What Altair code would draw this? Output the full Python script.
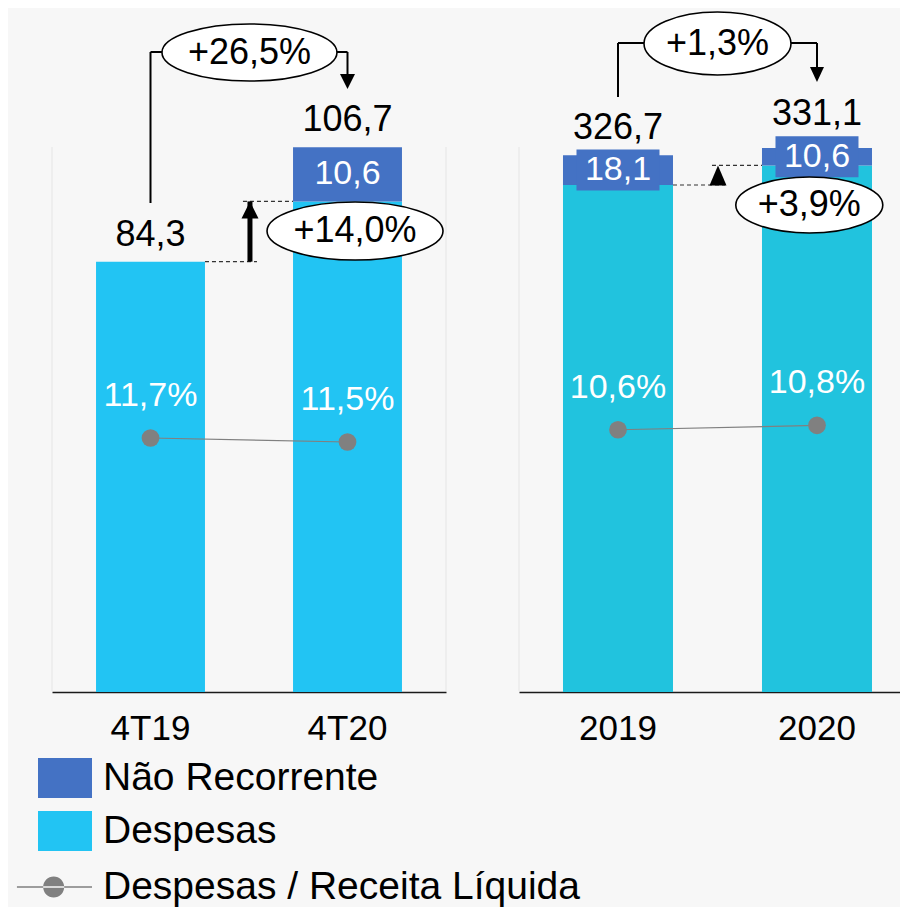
import altair as alt
import pandas as pd

# ---------------- data ----------------
periods_q = ["4T19", "4T20"]
periods_y = ["2019", "2020"]
despesas_q = [84.3, 96.1]
nao_rec_q = [0.0, 10.6]
total_q = [84.3, 106.7]
ratio_q = [11.7, 11.5]
despesas_y = [308.6, 320.5]
nao_rec_y = [18.1, 10.6]
total_y = [326.7, 331.1]
ratio_y = [10.6, 10.8]
var_total = ["+26,5%", "+1,3%"]
var_despesas = ["+14,0%", "+3,9%"]
series = ["Não Recorrente", "Despesas"]
line_label = "Despesas / Receita Líquida"

# ---------------- style ----------------
FONT = "Liberation Sans"
BG = "#F7F7F7"
DARK = "#4472C4"
CYAN_Q = "#22C4F3"
CYAN_Y = "#21C3DE"
GRAY = "#808080"
H = 682

RECT_PATH = "M -1 -0.74 H 1 V 0.74 H -1 Z"
BOX_PATH = "M -1 -0.494 H 1 V 0.494 H -1 Z"
LINE_PATH = ("M -1.78 -0.028 H 1 V 0.028 H -1.78 Z "
             "M -0.809 0 A 0.39 0.39 0 1 0 -0.029 0 A 0.39 0.39 0 1 0 -0.809 0 Z")


def ellipse_path(k):
    return f"M -1 0 A 1 {k} 0 1 0 1 0 A 1 {k} 0 1 0 -1 0 Z"


def long_df(periods, desp, nr):
    rows = []
    for p, d, n in zip(periods, desp, nr):
        rows.append({"period": p, "serie": "Despesas", "value": d, "ord": 0})
        if n > 0:
            rows.append({"period": p, "serie": "Não Recorrente", "value": n, "ord": 1})
    return pd.DataFrame(rows)


def wide_df(periods, desp, nr, total, ratio):
    return pd.DataFrame({"period": periods, "desp": desp, "nr": nr,
                         "total": total, "ratio": ratio,
                         "lg": [line_label] * len(periods)})


def ann_df(periods, desp, vt, vd):
    return pd.DataFrame({"p0": [periods[0]], "p1": [periods[1]],
                         "d0": [desp[0]], "d1": [desp[1]],
                         "vt": [vt], "vd": [vd]})


def fmt(field, suffix=""):
    s = f"replace(format(datum.{field}, '.1f'), '.', ',')"
    return s + (f" + '{suffix}'" if suffix else "")


XAXIS = alt.Axis(domainColor="#1a1a1a", domainWidth=1.6, ticks=False,
                 labelFont=FONT, labelFontSize=35, labelColor="black",
                 labelPadding=19, labelAngle=0, grid=False, title=None)


def panel(periods, desp, nr, total, ratio, vt, vd, W, xs, bar_dom, ratio_dom,
          cyan, g, legend_on, right_border):
    longd = long_df(periods, desp, nr)
    wide = wide_df(periods, desp, nr, total, ratio)
    ann = ann_df(periods, desp, vt, vd)

    bar_scale = alt.Scale(domain=bar_dom, nice=False, zero=False)
    ratio_scale = alt.Scale(domain=ratio_dom, nice=False, zero=False)

    def X(field, bp=None):
        kw = {} if bp is None else {"bandPosition": bp}
        return alt.X(f"{field}:N", scale=xs, axis=XAXIS, title=None, **kw)

    def X2(field, bp):
        return alt.X2(f"{field}:N", bandPosition=bp)

    layers = []

    leg_color = alt.Legend(orient="none", legendX=-14, legendY=741, title=None,
                           direction="vertical", symbolType=RECT_PATH,
                           symbolSize=2916, symbolStrokeWidth=0,
                           labelFont=FONT, labelFontSize=39, labelColor="black",
                           labelOffset=11, rowPadding=6, labelLimit=0)

    bars = alt.Chart(longd).mark_bar().encode(
        x=X("period"),
        y=alt.Y("value:Q", stack="zero", scale=bar_scale, axis=None),
        color=alt.Color("serie:N", scale=alt.Scale(domain=series, range=[DARK, cyan]),
                        legend=leg_color if legend_on else None),
        order=alt.Order("ord:Q"),
    )
    layers.append(bars)

    # faint panel borders
    bx = [0, W] if right_border else [0]
    for xv in bx:
        layers.append(alt.Chart(ann).mark_rule(color="#EBEBEB", strokeWidth=1.5).encode(
            x=alt.value(xv), y=alt.value(137), y2=alt.value(H - 1)))

    nr_base = alt.Chart(wide).transform_filter("datum.nr > 0").transform_calculate(
        mid="datum.desp + datum.nr / 2", lbl=fmt("nr"))
    if g["box"]:
        layers.append(nr_base.mark_point(filled=True, shape=BOX_PATH, size=6889,
                                         color=DARK, opacity=1).encode(
            x=X("period"), y=alt.Y("mid:Q", scale=bar_scale, axis=None)))
    layers.append(nr_base.mark_text(font=FONT, fontSize=34, color="white").encode(
        x=X("period"), y=alt.Y("mid:Q", scale=bar_scale, axis=None), text="lbl:N"))

    # total labels
    tot = alt.Chart(wide).transform_calculate(
        mid="datum.desp + datum.nr / 2", lbl=fmt("total"))
    layers.append(tot.mark_text(font=FONT, fontSize=36, color="black", dy=g["tot_dy"]).encode(
        x=X("period"), y=alt.Y(f"{g['tot_field']}:Q", scale=bar_scale, axis=None),
        text="lbl:N"))

    # ratio line + points + labels
    rbase = alt.Chart(wide).transform_calculate(lbl=fmt("ratio", "%"))
    layers.append(rbase.mark_line(color=GRAY, strokeWidth=1.2).encode(
        x=X("period"), y=alt.Y("ratio:Q", scale=ratio_scale, axis=None)))
    layers.append(rbase.mark_circle(color=GRAY, size=314, opacity=1).encode(
        x=X("period"), y=alt.Y("ratio:Q", scale=ratio_scale, axis=None)))
    layers.append(rbase.mark_text(font=FONT, fontSize=34, color="white", dy=-42).encode(
        x=X("period"), y=alt.Y("ratio:Q", scale=ratio_scale, axis=None), text="lbl:N"))

    if legend_on:
        leg_shape = alt.Legend(orient="none", legendX=-14, legendY=850, title=None,
                               direction="vertical", symbolSize=2916, symbolOpacity=1,
                               symbolStrokeWidth=0, symbolFillColor=GRAY,
                               labelFont=FONT, labelFontSize=39, labelColor="black",
                               labelOffset=11, labelLimit=0)
        layers.append(rbase.mark_point(filled=True, color=GRAY, opacity=0).encode(
            x=X("period"), y=alt.Y("ratio:Q", scale=ratio_scale, axis=None),
            shape=alt.Shape("lg:N", scale=alt.Scale(domain=[line_label], range=[LINE_PATH]),
                            legend=leg_shape)))

    # ---- annotations (anchored to bar edges, offset in pixels) ----
    a = alt.Chart(ann)
    layers.append(a.mark_rule(color="#333333", strokeWidth=1.2, strokeDash=[4, 3],
                              x2Offset=g["dash_lo_len"]).encode(
        x=X("p0", 1), x2=X2("p0", 1),
        y=alt.Y("d0:Q", scale=bar_scale, axis=None)))
    layers.append(a.mark_rule(color="#333333", strokeWidth=1.2, strokeDash=[4, 3],
                              xOffset=g["dash_hi_off"]).encode(
        x=X("p0", 1), x2=X2("p1", 0),
        y=alt.Y("d1:Q", scale=bar_scale, axis=None)))
    if g["shaft"]:
        layers.append(a.mark_rule(color="black", strokeWidth=5, xOffset=g["up_off"]).encode(
            x=X("p0", 1), y=alt.Y("d0:Q", scale=bar_scale, axis=None),
            y2=alt.Y2("d1:Q")))
    layers.append(a.mark_point(filled=True, color="black", opacity=1, shape=g["up_path"],
                               size=400, xOffset=g["up_off"]).encode(
        x=X("p0", 1), y=alt.Y("d1:Q", scale=bar_scale, axis=None)))

    # bracket
    layers.append(a.mark_rule(color="black", strokeWidth=2).encode(
        x=X("p0"), y=alt.value(g["br_left_bottom"]), y2=alt.value(g["br_top"])))
    layers.append(a.mark_rule(color="black", strokeWidth=2).encode(
        x=X("p0"), x2=X2("p1", 0.5), y=alt.value(g["br_top"])))
    layers.append(a.mark_rule(color="black", strokeWidth=2).encode(
        x=X("p1"), y=alt.value(g["br_top"]), y2=alt.value(g["br_right_bottom"])))
    layers.append(a.mark_point(filled=True, color="black", opacity=1, shape=g["down_path"],
                               size=400).encode(
        x=X("p1"), y=alt.value(g["down_tip"])))

    # ellipses with variation text
    for key, field in [("ell_top", "vt"), ("ell_desp", "vd")]:
        anchor, bp, xoff, yv, w, h = g[key]
        layers.append(a.mark_point(filled=True, fill="white", stroke="black",
                                   strokeWidth=1.6, opacity=1, xOffset=xoff,
                                   shape=ellipse_path(round(h / w, 3)), size=w * w).encode(
            x=X(anchor, bp), y=alt.value(yv)))
        layers.append(a.mark_text(font=FONT, fontSize=36, color="black", xOffset=xoff).encode(
            x=X(anchor, bp), y=alt.value(yv), text=f"{field}:N"))

    return alt.layer(*layers).resolve_scale(y="independent").properties(width=W, height=H)


xs_q = alt.Scale(domain=periods_q, paddingInner=0.447, paddingOuter=0.2235, align=0.5)
xs_y = alt.Scale(domain=periods_y, paddingInner=0.4472, paddingOuter=0.1809, align=0.611)

geo_q = dict(box=False, tot_field="total", tot_dy=-27,
             dash_lo_len=52, dash_hi_off=38, shaft=True, up_off=45,
             up_path="M 0 0 L 0.85 1.7 L -0.85 1.7 Z",
             br_top=42, br_left_bottom=193, br_right_bottom=64, down_tip=79,
             down_path="M 0 0 L -0.75 -1.5 L 0.75 -1.5 Z",
             ell_top=("p0", 1, 44.5, 42.5, 175, 57),
             ell_desp=("p1", 0.569, 0, 221, 176, 58))
geo_y = dict(box=True, tot_field="mid", tot_dy=-42.5,
             dash_lo_len=52, dash_hi_off=39, shaft=False, up_off=45,
             up_path="M 0 0 L 0.85 2 L -0.85 2 Z",
             br_top=33, br_left_bottom=87, br_right_bottom=57, down_tip=72,
             down_path="M 0 0 L -0.7 -1.5 L 0.7 -1.5 Z",
             ell_top=("p0", 1, 44.5, 33.5, 147, 63),
             ell_desp=("p1", 0.43, 0, 195, 147, 56))

left = panel(periods_q, despesas_q, nao_rec_q, total_q, ratio_q, var_total[0], var_despesas[0],
             394, xs_q, [0, 133.6], [-1, 33.1], CYAN_Q, geo_q, True, True)
right = panel(periods_y, despesas_y, nao_rec_y, total_y, ratio_y, var_total[1], var_despesas[1],
              381, xs_y, [0, 415.1], [-1.32, 29.68], CYAN_Y, geo_y, False, False)

chart = alt.hconcat(left, right, spacing=73, bounds="flush").resolve_scale(
    color="independent", shape="independent", x="independent", y="independent"
).properties(
    background=BG, padding={"left": 30, "top": 0, "right": 0, "bottom": 0}
).configure(font=FONT).configure_view(strokeWidth=0)

chart.save("out.html", embed_options={"renderer": "svg", "actions": False})
